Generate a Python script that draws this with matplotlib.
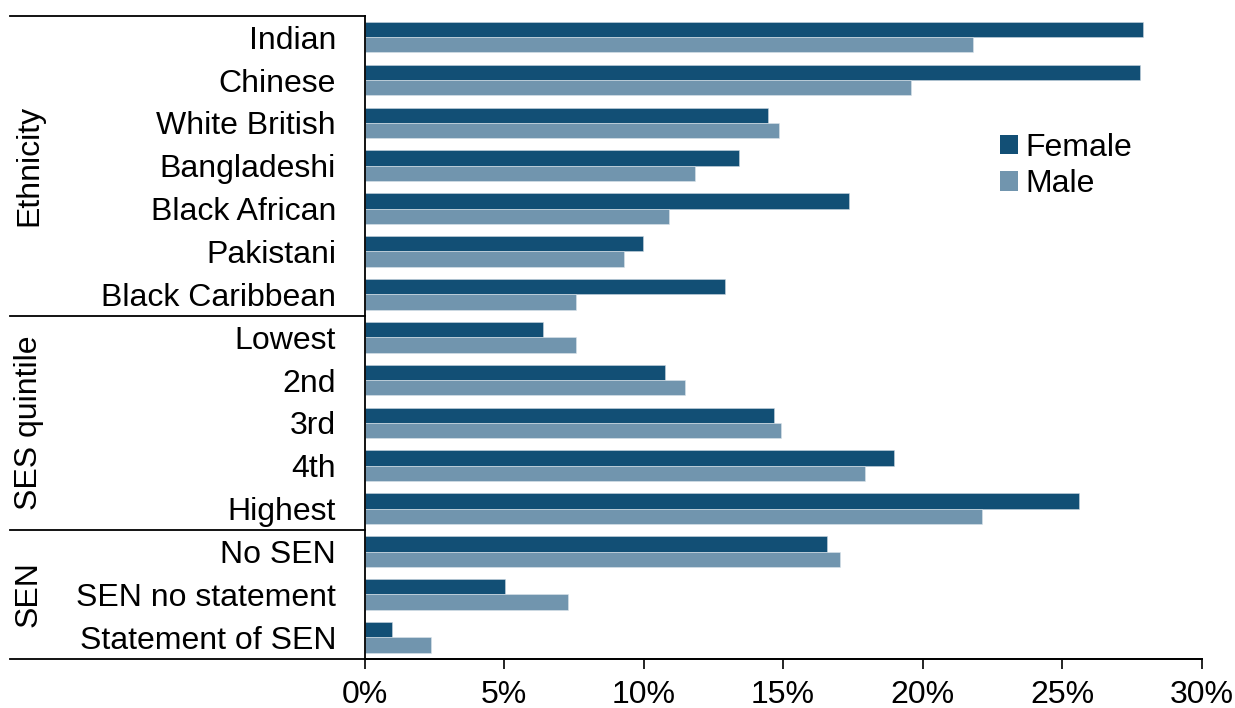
import matplotlib
matplotlib.use("Agg")
import matplotlib.pyplot as plt
import matplotlib.transforms as mtransforms
from matplotlib.patches import Patch
import numpy as np

plt.rcParams['font.family'] = ['Liberation Sans', 'DejaVu Sans']

categories = ["Indian", "Chinese", "White British", "Bangladeshi", "Black African",
              "Pakistani", "Black Caribbean", "Lowest", "2nd", "3rd", "4th", "Highest",
              "No SEN", "SEN no statement", "Statement of SEN"]
female = [27.9, 27.8, 14.46, 13.41, 17.35, 9.98, 12.91, 6.39, 10.78, 14.68, 18.99, 25.6,
          16.59, 5.02, 1.0]
male = [21.8, 19.6, 14.85, 11.85, 10.9, 9.29, 7.57, 7.59, 11.5, 14.92, 17.95, 22.14,
        17.04, 7.28, 2.38]
groups = ["Ethnicity", "SES quintile", "SEN"]
group_sizes = [7, 5, 3]
xticks = [0, 5, 10, 15, 20, 25, 30]
xticklabels = ["0%", "5%", "10%", "15%", "20%", "25%", "30%"]

c_f = "#124f75"
c_m = "#7195ae"
fs = 23

W, H = 1235, 708
fig = plt.figure(figsize=(W / 100, H / 100), dpi=100)
ax = fig.add_axes([364.5 / W, 49.3 / H, 837 / W, 643 / H])

y = np.arange(len(categories))
h = 0.357
ax.barh(y - h / 2, female, height=h, color=c_f, edgecolor='#c9d6e0', linewidth=0.4, label="Female")
ax.barh(y + h / 2, male, height=h, color=c_m, edgecolor='#dbe4eb', linewidth=0.4, label="Male")

ax.set_ylim(len(categories) - 0.5, -0.5)
ax.set_xlim(0, 30)
ax.set_yticks(y)
ax.set_yticklabels(categories, fontsize=fs)
ax.set_xticks(xticks)
ax.set_xticklabels(xticklabels, fontsize=fs)
ax.tick_params(axis='y', length=0, pad=20.5)
ax.tick_params(axis='x', length=7, width=1.2, direction='out', pad=8)
for s in ['top', 'right']:
    ax.spines[s].set_visible(False)
for s in ['left', 'bottom']:
    ax.spines[s].set_linewidth(1.3)
    ax.spines[s].set_color('black')

# group dividers and labels
trans = mtransforms.blended_transform_factory(ax.transAxes, ax.transData)
x_left = (10 - 364.5) / 837
bounds = [-0.5]
for g in group_sizes:
    bounds.append(bounds[-1] + g)
for b in bounds[:-1]:
    ax.plot([x_left, 0], [b, b], color='black', lw=1.3, transform=trans, clip_on=False)
ax.plot([x_left, 1.0], [bounds[-1], bounds[-1]], color='black', lw=1.3, transform=trans,
        clip_on=False)
x_glabel = (29 - 364.5) / 837
for name, b0, b1 in zip(groups, bounds[:-1], bounds[1:]):
    ax.text(x_glabel, (b0 + b1) / 2, name, rotation=90, ha='center', va='center',
            fontsize=fs, transform=trans)

handles = [Patch(facecolor=c_f, label="Female"), Patch(facecolor=c_m, label="Male")]
fig.legend(handles=handles, loc='upper left', bbox_to_anchor=(1000 / W, 1 - 133 / H),
           frameon=False, fontsize=fs, handlelength=0.55, handleheight=0.55,
           handletextpad=0.25, labelspacing=0.2, borderpad=0, borderaxespad=0)

fig.savefig("out.png", dpi=100)
